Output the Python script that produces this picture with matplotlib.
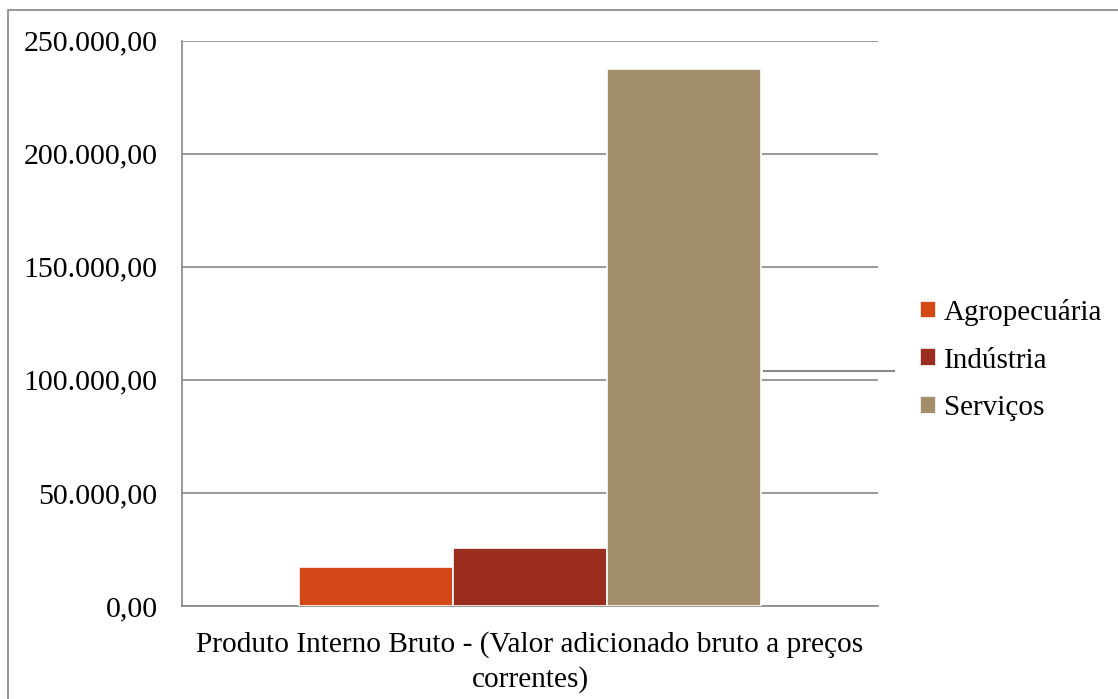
import numpy as np
import matplotlib
matplotlib.use("Agg")
import matplotlib.pyplot as plt
from matplotlib.lines import Line2D
from matplotlib.ticker import FuncFormatter

setores = ["Agropecuária", "Indústria", "Serviços"]
valores = [17240.0, 25640.0, 237270.0]
cores = ["#D34817", "#9B2D1F", "#A28E6A"]
rotulo_x = "Produto Interno Bruto - (Valor adicionado bruto a preços\ncorrentes)"
yticks = [0, 50000, 100000, 150000, 200000, 250000]

plt.rcParams['font.family'] = ['Liberation Serif', 'DejaVu Serif']

W, H = 1118, 699
fig = plt.figure(figsize=(W/100, H/100), dpi=100)
ax = fig.add_axes([182/W, 1-606/H, (878-182)/W, (606-40.5)/H])

def fmt_br(v, pos):
    s = f"{v:,.2f}"
    return s.replace(",", "X").replace(".", ",").replace("X", ".")

pos_x = np.arange(len(setores)) - 1
for i in range(len(setores)):
    ax.bar(pos_x[i], valores[i], width=1.0, color=cores[i], edgecolor="white",
           linewidth=1.2, label=setores[i], zorder=3)

ax.set_xlim(-696/154/2, 696/154/2)
ax.set_ylim(0, 250000)
ax.set_yticks(yticks)
ax.yaxis.set_major_formatter(FuncFormatter(fmt_br))
ax.tick_params(axis="y", length=0, pad=17.5, labelsize=21.5)
ax.set_xticks([])
ax.grid(axis="y", color="#888888", linewidth=1.2, zorder=0)
for s in ["top", "right"]:
    ax.spines[s].set_visible(False)
ax.spines["left"].set_color("#888888")
ax.spines["bottom"].set_color("#888888")
ax.spines["left"].set_linewidth(1.2)
ax.spines["bottom"].set_linewidth(1.2)

fig.text(530/W, 1-662/H, rotulo_x, ha="center", va="center", fontsize=21.2,
         linespacing=1.38)

fig.legend(loc="center left", bbox_to_anchor=(920/W, 1-360/H), frameon=False,
           fontsize=21.0, handlelength=0.55, handleheight=0.55, handletextpad=0.27,
           labelspacing=0.75, borderpad=0, borderaxespad=0)

# moldura e traço soltos do gráfico original
fig.add_artist(Line2D([8/W, 8/W, 1.0], [0.0, 1-10/H, 1-10/H], color="#999999",
                      linewidth=1.5, transform=fig.transFigure))
fig.add_artist(Line2D([764/W, 894/W], [1-371/H, 1-371/H], color="#888888",
                      linewidth=1.5, transform=fig.transFigure))

fig.savefig("out.png", dpi=100)
